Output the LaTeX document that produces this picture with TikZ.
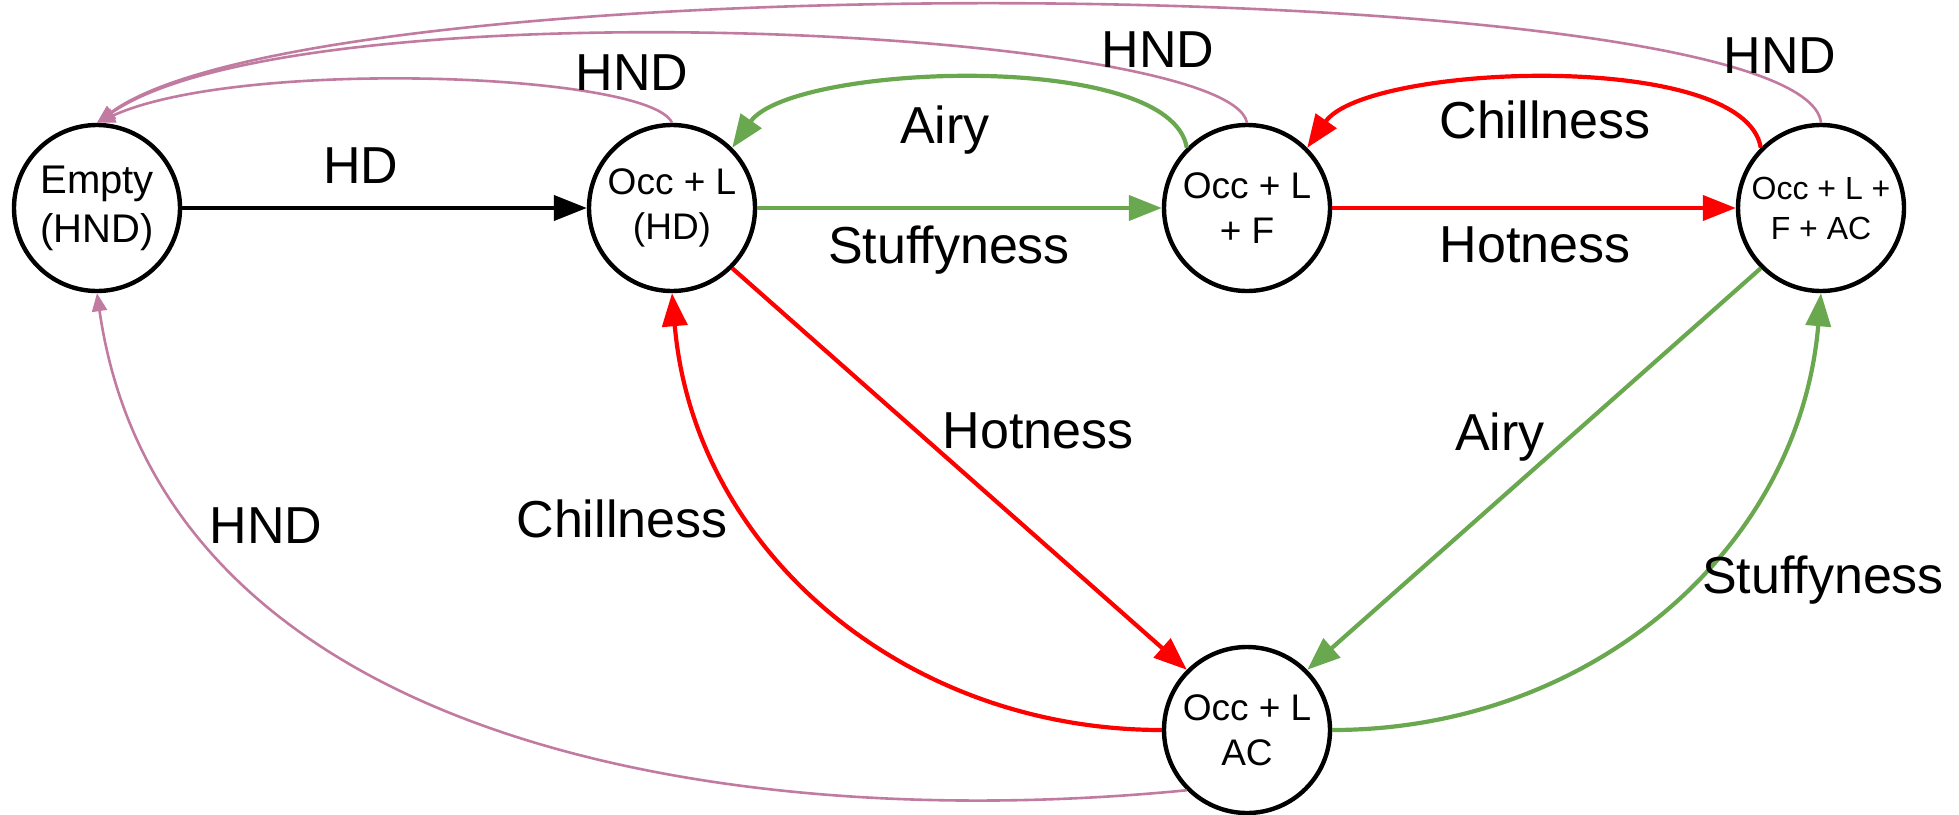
\documentclass[tikz,border=0pt]{standalone}
\usepackage{fontspec}
\setmainfont{Liberation Sans}
\usetikzlibrary{arrows.meta}
\definecolor{cgreen}{HTML}{6AA84F}
\definecolor{cred}{HTML}{FF0000}
\definecolor{cpink}{HTML}{C27BA0}
\begin{document}
\begin{tikzpicture}[x=0.5pt,y=0.5pt,
  stnode/.style={circle,draw,line width=2.2pt,minimum size=83pt,inner sep=0pt,align=center,font=\fontsize{18.5}{22.5}\selectfont},
  lbl/.style={anchor=base,font=\fontsize{26}{30}\selectfont,inner sep=0pt},
  bigarrow/.style={line width=2.1pt,-{Triangle[length=16.5pt,width=12.5pt]}},
  hndarrow/.style={cpink,line width=1.3pt,-{Triangle[length=9pt,width=7.5pt]}}]
\useasboundingbox (0,0) rectangle (1959,-814);
% states
\node[stnode,font=\fontsize{20}{24.5}\selectfont] (E) at (97,-208) {Empty\\(HND)};
\node[stnode] (HD) at (672,-208) {Occ + L\\(HD)};
\node[stnode] (F) at (1247,-208) {Occ + L\\+ F};
\node[stnode,font=\fontsize{16}{20}\selectfont] (A) at (1821,-208) {Occ + L +\\F + AC};
\node[stnode] (B) at (1247,-730) {Occ + L\\AC};
% straight transitions
\draw[bigarrow,black] (E.east) -- (HD.west);
\draw[bigarrow,cgreen] (HD.east) -- (F.west);
\draw[bigarrow,cred] (F.east) -- (A.west);
\draw[bigarrow,cred] (HD.-45) -- (B.135);
\draw[bigarrow,cgreen] (A.-135) -- (B.45);
% curved transitions
\draw[bigarrow,cgreen] (F.135) .. controls +(-16,99) and +(59,84) .. (HD.45);
\draw[bigarrow,cred] (A.135) .. controls +(-16,99) and +(59,84) .. (F.45);
\draw[bigarrow,cred] (B.west) .. controls +(-258,0) and +(22,-257) .. (HD.south);
\draw[bigarrow,cgreen] (B.east) .. controls +(258,0) and +(-22,-257) .. (A.south);
% HND transitions
\draw[hndarrow] (HD.north) .. controls +(-22,50) and +(143,65) .. (E.north);
\draw[hndarrow] (F.north) .. controls +(-17,95) and +(203,140) .. (E.north);
\draw[hndarrow] (A.north) .. controls +(-16,150) and +(223,165) .. (E.north);
\draw[hndarrow] (B.225) .. controls +(-460,-45) and +(65,-450) .. (E.south);
% labels
\node[lbl] (lHD) at (361,-183) {HD};
\node[lbl] (lH1) at (632,-90) {HND};
\node[lbl] (lH2) at (1158,-67) {HND};
\node[lbl] (lH3) at (1780,-73) {HND};
\node[lbl] (lA1) at (945,-143) {Airy};
\node[lbl] (lS1) at (949,-263) {Stuffyness};
\node[lbl] (lC1) at (1545,-138) {Chillness};
\node[lbl] (lT1) at (1535,-262) {Hotness};
\node[lbl] (lT2) at (1038,-448) {Hotness};
\node[lbl] (lC2) at (622,-537) {Chillness};
\node[lbl] (lH4) at (266,-543) {HND};
\node[lbl] (lA2) at (1500,-450) {Airy};
\node[lbl] (lS2) at (1823,-593) {Stuffyness};
\end{tikzpicture}
\end{document}
